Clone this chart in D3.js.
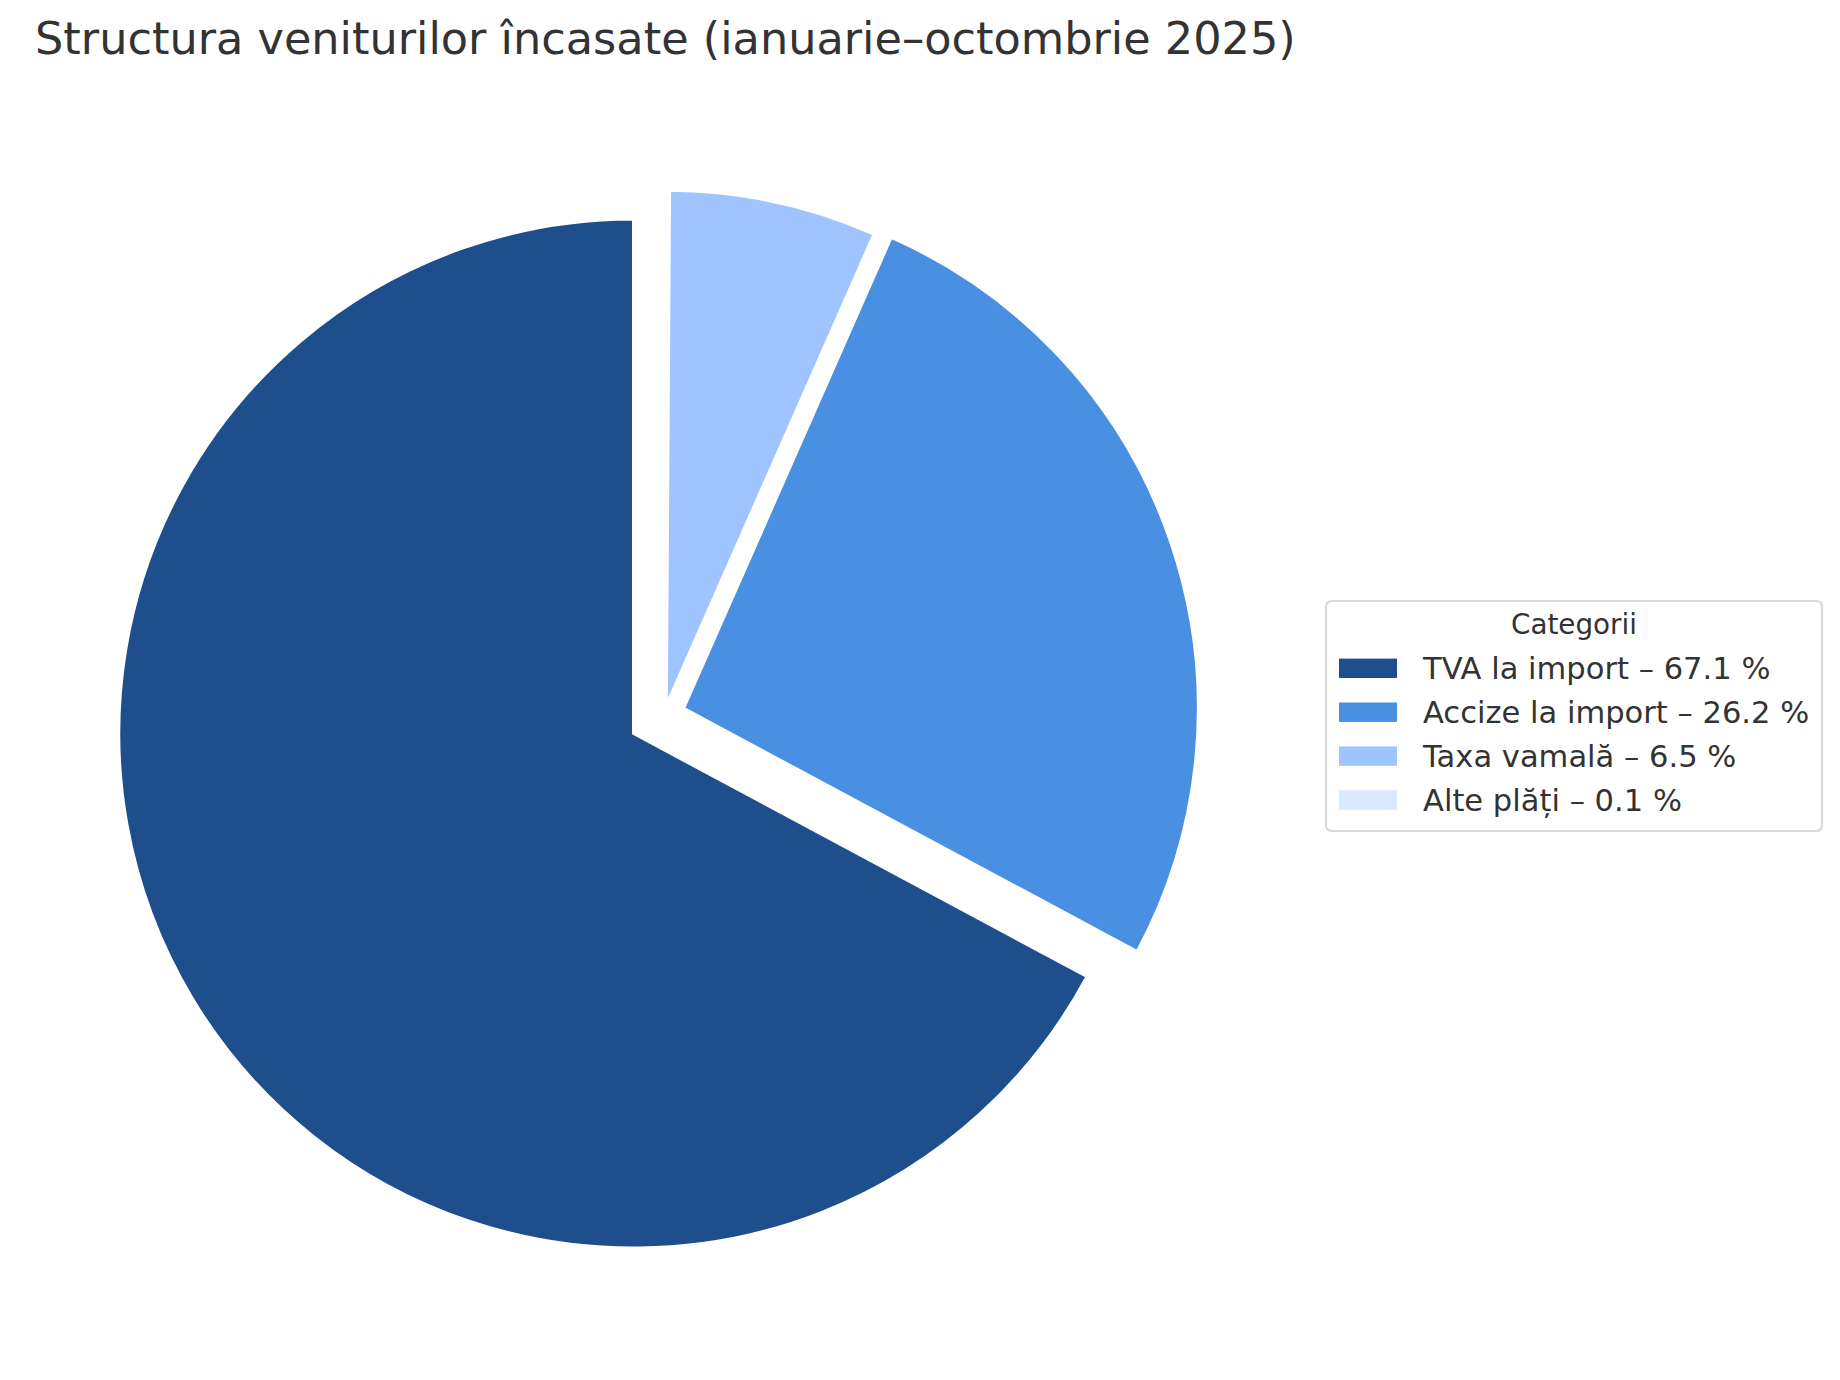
<!DOCTYPE html>
<html>
<head>
<meta charset="utf-8">
<script src="https://cdn.jsdelivr.net/npm/d3@7"></script>
<style>
    body { margin: 0; background: #ffffff; }
    text { font-family: "DejaVu Sans", sans-serif; fill: #333333; }
</style>
</head>
<body>
<div id="wrapper"></div>
<script>
// data
const categories = ["TVA la import", "Accize la import", "Taxa vamală", "Alte plăți"];
const shares = [67.1, 26.2, 6.5, 0.1];
const sliceColors = ["#1f4e8c", "#4a90e2", "#a0c4ff", "#dbeafe"];
const explode = [0.07, 0.04, 0.02, 0.01];
const chartTitle = "Structura veniturilor încasate (ianuarie–octombrie 2025)";
const legendTitle = "Categorii";

const dimension = {
    width: 1840,
    height: 1380,
    cx: 664.3,
    cy: 715,
    radius: 514.5
};

const svg = d3.select("#wrapper").append("svg")
    .attr("width", dimension.width)
    .attr("height", dimension.height);

// title
svg.append("text")
    .attr("x", 35)
    .attr("y", 54)
    .style("font-size", "44.6px")
    .text(chartTitle);

const colorScale = d3.scaleOrdinal()
    .domain(categories)
    .range(sliceColors);

const rows = categories.map((c, i) => ({ label: c, value: shares[i], explode: explode[i] }));

// matplotlib style: start at top, go counter-clockwise
const pie = d3.pie()
    .sort(null)
    .value(d => d.value)
    .startAngle(0)
    .endAngle(-2 * Math.PI);

const arc = d3.arc()
    .innerRadius(0)
    .outerRadius(dimension.radius);

const pieGroup = svg.append("g")
    .attr("transform", `translate(${dimension.cx},${dimension.cy})`);

pieGroup.selectAll("path")
    .data(pie(rows))
    .join("path")
    .attr("d", arc)
    .attr("transform", d => {
        const mid = (d.startAngle + d.endAngle) / 2;
        const off = d.data.explode * dimension.radius;
        return `translate(${Math.sin(mid) * off},${-Math.cos(mid) * off})`;
    })
    .attr("fill", d => colorScale(d.data.label))
    .attr("stroke", "#ffffff")
    .attr("stroke-width", 2.8);

// legend
const legend = {
    x: 1326, y: 601, width: 496, height: 230
};

svg.append("rect")
    .attr("x", legend.x)
    .attr("y", legend.y)
    .attr("width", legend.width)
    .attr("height", legend.height)
    .attr("rx", 5.5)
    .attr("fill", "#ffffff")
    .attr("stroke", "#d9d9d9")
    .attr("stroke-width", 2.2);

svg.append("text")
    .attr("x", legend.x + legend.width / 2)
    .attr("y", 624 + 0.365 * 27.8)
    .attr("text-anchor", "middle")
    .style("font-size", "27.8px")
    .text(legendTitle);

const rowScale = d3.scalePoint()
    .domain(categories)
    .range([668.3, 800]);

const entry = svg.selectAll("g.entry")
    .data(rows)
    .join("g")
    .attr("class", "entry")
    .attr("transform", d => `translate(0,${rowScale(d.label)})`);

entry.append("rect")
    .attr("x", 1339)
    .attr("y", -9.7)
    .attr("width", 58)
    .attr("height", 19.4)
    .attr("fill", d => colorScale(d.label));

entry.append("text")
    .attr("x", 1423)
    .attr("y", 0.365 * 30.56)
    .style("font-size", "30.56px")
    .text(d => `${d.label} – ${d.value.toFixed(1)} %`);
</script>
</body>
</html>
